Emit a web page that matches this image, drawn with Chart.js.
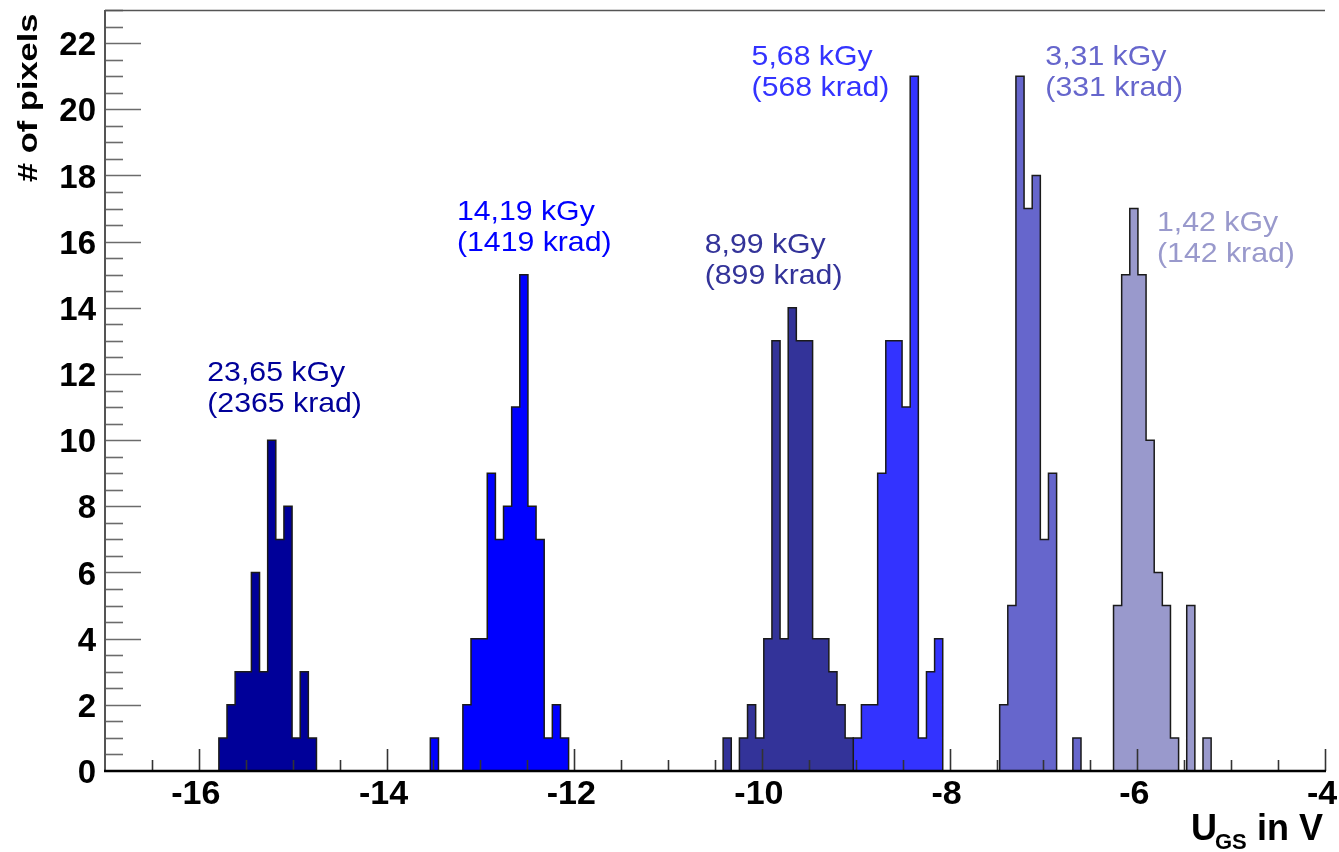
<!DOCTYPE html>
<html>
<head>
<meta charset="utf-8">
<title>U_GS per pixel after irradiation</title>
<script src="https://cdn.jsdelivr.net/npm/chart.js@4.4.1/dist/chart.umd.min.js"></script>
<style>
  html, body { margin: 0; padding: 0; background: #fff; }
  canvas { display: block; }
</style>
</head>
<body>
<canvas id="hist" width="1339" height="852"></canvas>
<script>
// all six histograms share the same binning: 150 bins from -17 V to -4 V
const binLow = -17;
const binHigh = -4;
const nBins = 150;

const doseLabels = ["23,65 kGy", "14,19 kGy", "8,99 kGy", "5,68 kGy", "3,31 kGy", "1,42 kGy"];
const kradLabels = ["(2365 krad)", "(1419 krad)", "(899 krad)", "(568 krad)", "(331 krad)", "(142 krad)"];

// index of the first filled bin, then the counts from there on
const firstBins = [14, 40, 76, 92, 110, 124];
const counts2365 = [1, 2, 3, 3, 6, 3, 10, 7, 8, 1, 3, 1];
const counts1419 = [1, 0, 0, 0, 2, 4, 4, 9, 7, 8, 11, 15, 8, 7, 1, 2, 1];
const counts899 = [1, 0, 1, 2, 1, 4, 13, 4, 14, 13, 13, 4, 4, 3, 2, 1];
const counts568 = [1, 2, 2, 9, 13, 13, 11, 21, 1, 3, 4];
const counts331 = [2, 5, 21, 17, 18, 7, 9, 0, 0, 1];
const counts142 = [5, 15, 17, 15, 10, 6, 5, 1, 0, 5, 0, 1];

const xTickValues = [-16, -14, -12, -10, -8, -6, -4];
const yTickValues = [0, 2, 4, 6, 8, 10, 12, 14, 16, 18, 20, 22];

const allCounts = [counts2365, counts1419, counts899, counts568, counts331, counts142];
const fillColors = ["#000099", "#0000ff", "#333399", "#3333ff", "#6666cc", "#9999cc"];

// where each dose label sits, in axis units (left edge, first baseline)
const labelAnchors = [
  [-15.91, 11.79], [-13.25, 16.65], [-10.61, 15.66],
  [-10.11, 21.34], [-6.98, 21.34], [-5.79, 16.32]
];

const FONT = '"Liberation Sans", Arial, Helvetica, sans-serif';

// outline of a filled histogram as a stepped polyline
function stepPoints(first, counts) {
  const w = (binHigh - binLow) / nBins;
  const edge = (k) => binLow + k * w;
  const pts = [{ x: edge(first), y: 0 }];
  counts.forEach((c, i) => pts.push({ x: edge(first + i), y: c }));
  pts.push({ x: edge(first + counts.length), y: 0 });
  return pts;
}

const datasets = allCounts.map((counts, i) => ({
  label: doseLabels[i],
  data: stepPoints(firstBins[i], counts),
  stepped: true,
  fill: "origin",
  backgroundColor: fillColors[i],
  borderColor: "#1a1a1a",
  borderWidth: 1.5,
  borderJoinStyle: "miter",
  pointRadius: 0,
}));

function drawText(ctx, text, x, y, font, color, stretch) {
  ctx.save();
  ctx.font = font;
  ctx.fillStyle = color;
  ctx.textBaseline = "alphabetic";
  ctx.translate(x, y);
  ctx.scale(stretch, 1);
  ctx.fillText(text, 0, 0);
  ctx.restore();
}

// ROOT-like frame: inward ticks, axis lines, titles and dose labels
const framePlugin = {
  id: "frame",
  afterDatasetsDraw(chart) {
    const { ctx, chartArea: a, scales: { x, y } } = chart;
    ctx.save();

    // y ticks every 0.5, long ones every 2
    ctx.strokeStyle = "#6b6b6b";
    ctx.lineWidth = 1.6;
    for (let v = 0.5; v <= 23; v += 0.5) {
      const py = Math.round(y.getPixelForValue(v)) + 0.5;
      const len = v % 2 === 0 ? 36 : 18;
      ctx.beginPath();
      ctx.moveTo(a.left, py);
      ctx.lineTo(a.left + len, py);
      ctx.stroke();
    }

    // x ticks every 0.5, long ones every 2
    ctx.strokeStyle = "#333";
    ctx.lineWidth = 1.6;
    for (let v = binLow + 0.5; v <= binHigh + 1e-9; v += 0.5) {
      const px = Math.round(x.getPixelForValue(v)) + 0.5;
      const len = v % 2 === 0 ? 22 : 11;
      ctx.beginPath();
      ctx.moveTo(px, a.bottom);
      ctx.lineTo(px, a.bottom - len);
      ctx.stroke();
    }

    // top edge of the frame
    ctx.strokeStyle = "#555";
    ctx.lineWidth = 1.5;
    ctx.beginPath();
    ctx.moveTo(a.left, a.top + 0.5);
    ctx.lineTo(a.right, a.top + 0.5);
    ctx.stroke();

    // y axis
    ctx.strokeStyle = "#555";
    ctx.lineWidth = 2;
    ctx.beginPath();
    ctx.moveTo(a.left, a.top);
    ctx.lineTo(a.left, a.bottom);
    ctx.stroke();

    // x axis
    ctx.strokeStyle = "#000";
    ctx.lineWidth = 2.5;
    ctx.beginPath();
    ctx.moveTo(a.left - 1, a.bottom);
    ctx.lineTo(a.right + 1, a.bottom);
    ctx.stroke();
    ctx.restore();
  },
  afterDraw(chart) {
    const { ctx, scales: { x, y } } = chart;

    // dose labels above each peak
    labelAnchors.forEach(([vx, vy], i) => {
      const px = x.getPixelForValue(vx);
      const py = y.getPixelForValue(vy);
      const f = "28px " + FONT;
      drawText(ctx, doseLabels[i], px, py, f, fillColors[i], 1.08);
      drawText(ctx, kradLabels[i], px, py + 31, f, fillColors[i], 1.08);
    });

    // y title, reading upwards
    ctx.save();
    ctx.font = "bold 28px " + FONT;
    ctx.fillStyle = "#000";
    ctx.textAlign = "left";
    ctx.textBaseline = "alphabetic";
    ctx.translate(37, 182);
    ctx.rotate(-Math.PI / 2);
    ctx.scale(1.23, 1);
    ctx.fillText("# of pixels", 0, 0);
    ctx.restore();

    // x title with subscript
    drawText(ctx, "U", 1191, 840, "bold 36px " + FONT, "#000", 1);
    drawText(ctx, "GS", 1215, 849, "bold 22px " + FONT, "#000", 1);
    ctx.save();
    ctx.font = "bold 36px " + FONT;
    ctx.fillStyle = "#000";
    ctx.textAlign = "right";
    ctx.fillText("in V", 1323, 840);
    ctx.restore();
  }
};

new Chart(document.getElementById("hist"), {
  type: "line",
  data: { datasets },
  options: {
    responsive: false,
    animation: false,
    devicePixelRatio: 1,
    events: [],
    layout: { padding: { top: 10, right: 14, bottom: 0, left: 0 } },
    plugins: { legend: { display: false }, tooltip: { enabled: false } },
    scales: {
      x: {
        type: "linear",
        min: binLow,
        max: binHigh,
        afterBuildTicks: (s) => { s.ticks = xTickValues.map((v) => ({ value: v })); },
        afterFit: (s) => { s.height = 81; s.paddingLeft = 0; s.paddingRight = 0; },
        grid: { display: false, drawTicks: false },
        border: { display: false },
        ticks: {
          autoSkip: false,
          maxRotation: 0,
          padding: 3,
          labelOffset: -3,
          color: "#000",
          font: { family: FONT, size: 34, weight: "bold" },
          callback: (v) => String(v),
        },
      },
      y: {
        min: 0,
        max: 23,
        afterBuildTicks: (s) => { s.ticks = yTickValues.map((v) => ({ value: v })); },
        afterFit: (s) => { s.width = 105; s.paddingTop = 0; s.paddingBottom = 0; },
        grid: { display: false, drawTicks: false },
        border: { display: false },
        ticks: {
          padding: 9,
          labelOffset: 3,
          color: "#000",
          font: { family: FONT, size: 33, weight: "bold" },
          callback: (v) => String(v),
        },
      },
    },
  },
  plugins: [framePlugin],
});
</script>
</body>
</html>
